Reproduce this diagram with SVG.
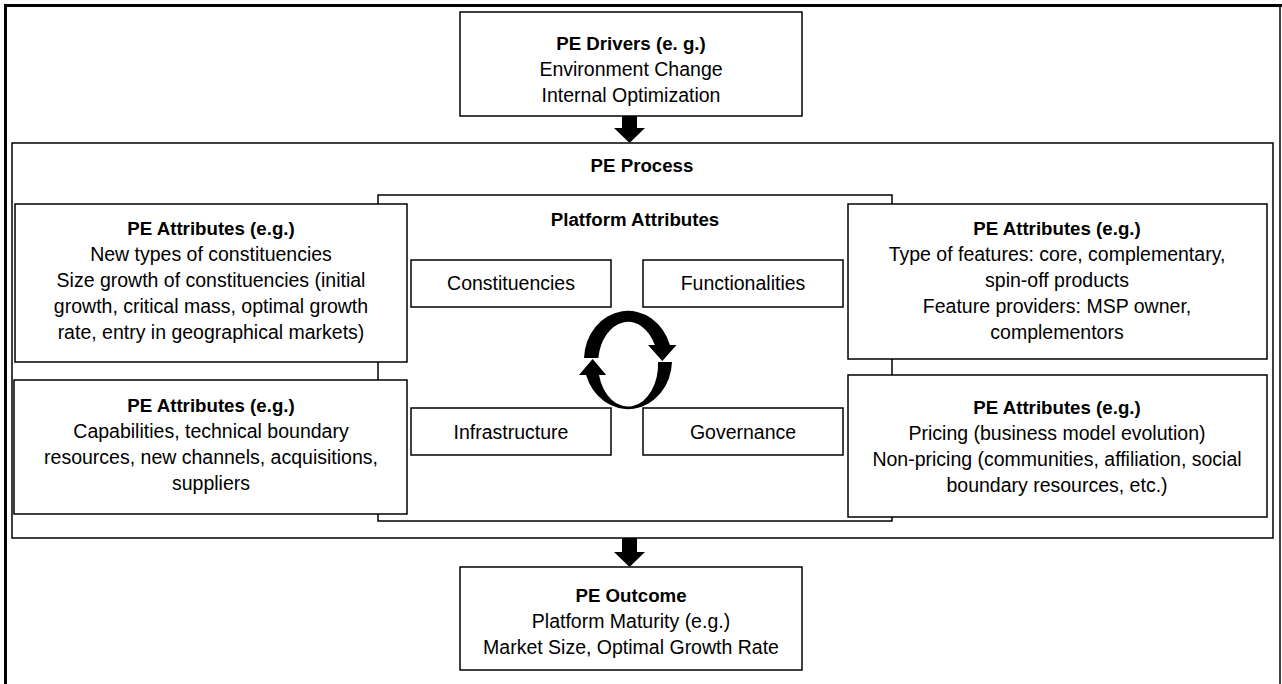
<svg xmlns="http://www.w3.org/2000/svg" width="1282" height="684" viewBox="0 0 1282 684">
<style>
.box{fill:#fff;stroke:#000;stroke-width:1.5}
.frame{fill:#fff;stroke:#000;stroke-width:1.5}
text{font-family:"Liberation Sans",Arial,sans-serif;font-size:19.5px;fill:#000;text-anchor:middle}
.b{font-weight:bold;font-size:18.7px}
.arr{fill:#000;stroke:none}
</style>
<rect x="0" y="0" width="1282" height="684" fill="#fff"/>
<g id="page-frame">
<line x1="4" y1="5.5" x2="1282" y2="5.5" stroke="#000" stroke-width="3"/>
<line x1="5.5" y1="4" x2="5.5" y2="684" stroke="#000" stroke-width="3"/>
<line x1="1280" y1="5" x2="1280" y2="684" stroke="#000" stroke-width="1.5"/>
</g>
<g id="drivers">
<rect class="box" x="460" y="12" width="342" height="104"/>
<text x="631" y="50" class="b">PE Drivers (e. g.)</text>
<text x="631" y="76">Environment Change</text>
<text x="631" y="102">Internal Optimization</text>
</g>
<g id="process">
<rect class="frame" x="12" y="143" width="1261" height="395"/>
<text x="642" y="172" class="b">PE Process</text>
</g>
<g id="platform">
<rect class="box" x="378" y="195" width="514" height="326"/>
<text x="635" y="226" class="b">Platform Attributes</text>
</g>
<g id="constituencies">
<rect class="box" x="411" y="260" width="200" height="47"/>
<text x="511" y="290">Constituencies</text>
</g>
<g id="functionalities">
<rect class="box" x="643" y="260" width="200" height="47"/>
<text x="743" y="290">Functionalities</text>
</g>
<g id="infrastructure">
<rect class="box" x="411" y="408" width="200" height="47"/>
<text x="511" y="439">Infrastructure</text>
</g>
<g id="governance">
<rect class="box" x="643" y="408" width="200" height="47"/>
<text x="743" y="439">Governance</text>
</g>
<g id="attr-left-top">
<rect class="box" x="15" y="204" width="392" height="158"/>
<text x="211" y="235" class="b">PE Attributes (e.g.)</text>
<text x="211" y="261">New types of constituencies</text>
<text x="211" y="287">Size growth of constituencies (initial</text>
<text x="211" y="313">growth, critical mass, optimal growth</text>
<text x="211" y="339">rate, entry in geographical markets)</text>
</g>
<g id="attr-left-bottom">
<rect class="box" x="14" y="380" width="393" height="134"/>
<text x="211" y="412" class="b">PE Attributes (e.g.)</text>
<text x="211" y="438">Capabilities, technical boundary</text>
<text x="211" y="464">resources, new channels, acquisitions,</text>
<text x="211" y="490">suppliers</text>
</g>
<g id="attr-right-top">
<rect class="box" x="848" y="204" width="419" height="155"/>
<text x="1057" y="235" class="b">PE Attributes (e.g.)</text>
<text x="1057" y="261">Type of features: core, complementary,</text>
<text x="1057" y="287">spin-off products</text>
<text x="1057" y="313">Feature providers: MSP owner,</text>
<text x="1057" y="339">complementors</text>
</g>
<g id="attr-right-bottom">
<rect class="box" x="848" y="375" width="419" height="142"/>
<text x="1057" y="414" class="b">PE Attributes (e.g.)</text>
<text x="1057" y="440">Pricing (business model evolution)</text>
<text x="1057" y="466">Non-pricing (communities, affiliation, social</text>
<text x="1057" y="492">boundary resources, etc.)</text>
</g>
<g id="outcome">
<rect class="box" x="460" y="567" width="342" height="103"/>
<text x="631" y="602" class="b">PE Outcome</text>
<text x="631" y="628">Platform Maturity (e.g.)</text>
<text x="631" y="654">Market Size, Optimal Growth Rate</text>
</g>
<g id="connectors">
<path class="arr" d="M622,116 H637 V128 H645 L629.5,143 L614,128 H622 Z"/>
<path class="arr" d="M622,538 H637 V552 H645 L629.5,567 L614,552 H622 Z"/>
<path class="arr" d="M584,358 A44 49 0 0 1 669.9,345 L676.5,345 L662.3,361 L648,345 L654.8,345 A30 42 0 0 0 598.3,358 Z"/>
<path class="arr" d="M672,362 A44 49 0 0 1 586.1,375 L579,375 L592.6,359 L606.2,375 L599,375 A30 42 0 0 0 658,362 Z"/>
</g>
</svg>
